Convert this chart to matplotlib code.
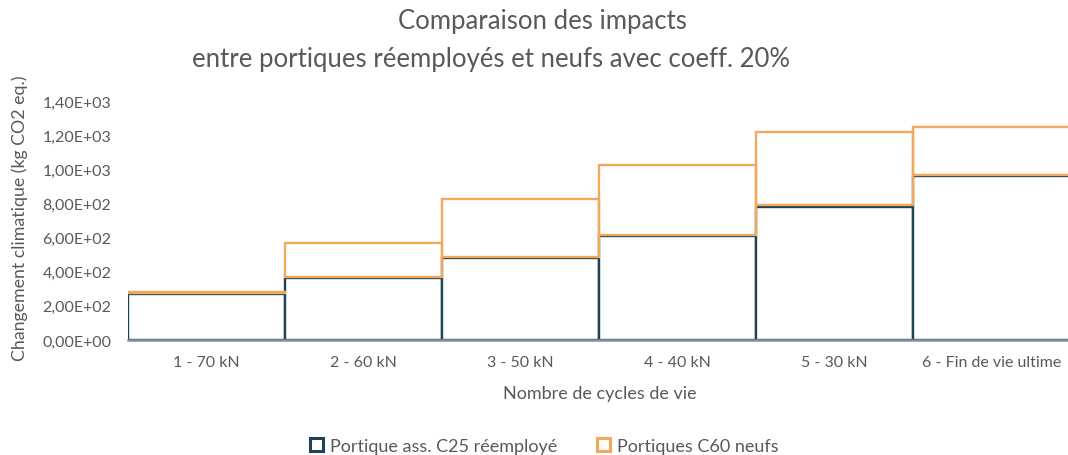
import matplotlib
matplotlib.use("Agg")
import matplotlib.pyplot as plt
from matplotlib.patches import Patch
from matplotlib.ticker import FuncFormatter
from matplotlib.transforms import ScaledTranslation

plt.rcParams['font.family'] = ['Lato', 'DejaVu Sans']

categories = ["1 - 70 kN", "2 - 60 kN", "3 - 50 kN", "4 - 40 kN", "5 - 30 kN",
              "6 - Fin de vie ultime"]
reused = [268, 361, 480, 611, 782, 962]
new_extra = [9, 203, 337, 408, 432, 278]

dark = "#1d4354"
orange = "#f3a95c"
grey = "#595959"

fig = plt.figure(figsize=(10.68, 4.56), dpi=100)
ax = fig.add_axes([128 / 1068, 115 / 456, 942 / 1068, 239 / 456])

x = list(range(len(categories)))
ax.bar(x, reused, width=1.0, color="white", edgecolor=dark, linewidth=1.7,
       label="Portique ass. C25 réemployé", zorder=2)
top = ax.bar(x, new_extra, width=1.0, bottom=reused, color="none", edgecolor=orange,
             linewidth=1.7, label="Portiques C60 neufs", zorder=3)
# lift the stacked outlines slightly so both borders stay visible at the joint
shift = ScaledTranslation(0, 0.8 / 72, fig.dpi_scale_trans)
for p in top.patches:
    p.set_transform(ax.transData + shift)

ax.set_xlim(-0.5, len(categories) - 0.5)
ax.set_ylim(0, 1400)
ax.set_yticks(range(0, 1401, 200))


def sci_fr(v, _):
    return f"{v:.2E}".replace(".", ",")


ax.yaxis.set_major_formatter(FuncFormatter(sci_fr))
ax.set_xticks(x)
ax.set_xticklabels(categories)
ax.tick_params(axis="both", length=0, colors=grey, labelsize=11.5)
ax.tick_params(axis="x", pad=11)
ax.tick_params(axis="y", pad=12)

for side in ("top", "right", "left"):
    ax.spines[side].set_visible(False)
ax.spines["bottom"].set_color("#7d93a5")
ax.spines["bottom"].set_linewidth(1.8)
ax.spines["bottom"].set_zorder(4)

fig.text(542 / 1068, 1 - 22 / 456, "Comparaison des impacts", ha="center", va="center",
         fontsize=18.5, color=grey)
fig.text(491 / 1068, 1 - 60 / 456, "entre portiques réemployés et neufs avec coeff. 20%",
         ha="center", va="center", fontsize=18.5, color=grey)
fig.text(20 / 1068, 1 - 218 / 456, "Changement climatique (kg CO2 eq.)", rotation=90,
         ha="center", va="center", fontsize=12.8, color=grey)
fig.text(600 / 1068, 1 - 394 / 456, "Nombre de cycles de vie", ha="center", va="center",
         fontsize=13, color=grey)

handles = [Patch(facecolor="white", edgecolor=dark, linewidth=2.2,
                 label="Portique ass. C25 réemployé"),
           Patch(facecolor="white", edgecolor=orange, linewidth=2.2,
                 label="Portiques C60 neufs")]
fig.legend(handles=handles, loc="center", bbox_to_anchor=(544 / 1068, 1 - 447 / 456),
           ncol=2, frameon=False, fontsize=13, handlelength=0.75, handleheight=0.75,
           handletextpad=0.35, columnspacing=2.2, labelcolor=grey)

fig.savefig("out.png", dpi=100)
